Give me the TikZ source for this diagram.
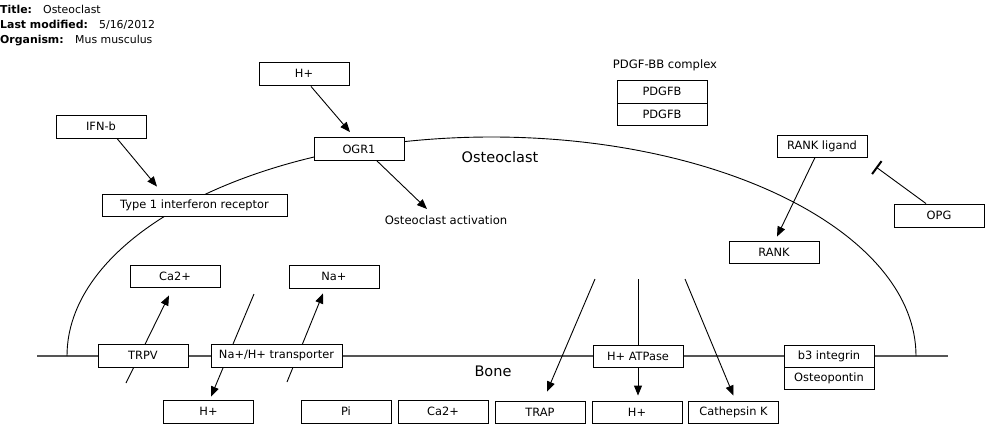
\documentclass[tikz,border=0pt]{standalone}
\usepackage{fontspec}
\setmainfont{DejaVu Sans}
\usetikzlibrary{arrows.meta,calc}
\pgfdeclarelayer{bg}
\pgfsetlayers{bg,main}
\definecolor{memgray}{RGB}{85,85,85}
\begin{document}
\begin{tikzpicture}[x=1pt,y=-1pt,
  gene/.style={draw=black,fill=white,line width=0.9pt,minimum width=90pt,minimum height=23pt,inner sep=0pt,font=\fontsize{11.4}{13}\selectfont},
  lbl/.style={inner sep=0pt,font=\fontsize{11.6}{13}\selectfont},
  big/.style={inner sep=0pt,font=\fontsize{14.5}{17}\selectfont},
  ttl/.style={inner sep=0pt,anchor=base west,font=\fontsize{10.9}{13}\selectfont},
  conn/.style={line width=0.9pt,-{Triangle[length=10pt,width=8pt]}},
  inh/.style={line width=0.9pt,-{Bar[width=16pt,line width=2pt]}},
  mem/.style={draw=memgray,line width=1.5pt},
  arcline/.style={draw=black,line width=0.9pt}]
\useasboundingbox (0,0) rectangle (1000,439);

% title block
\node[ttl] (t1) at (0,13) {\bfseries Title:};
\node[ttl] (t1v) at (43,13) {Osteoclast};
\node[ttl] (t2) at (0,28) {\bfseries Last modified:};
\node[ttl] (t2v) at (99,28) {5/16/2012};
\node[ttl] (t3) at (0,43) {\bfseries Organism:};
\node[ttl] (t3v) at (75,43) {Mus musculus};

% free ends
\coordinate (memL) at (37,356);
\coordinate (memR) at (948,356);
\coordinate (arcL) at (67,356);
\coordinate (opgT) at (876,167);
\coordinate (trpvS) at (126,383);
\coordinate (nhS) at (254,294);
\coordinate (naS) at (287,382);
\coordinate (trapS) at (595,279);
\coordinate (hS) at (638,279);
\coordinate (cathS) at (685,279);

% nodes
\node[gene] (hplus) at (304,73.5) {H+};
\node[gene] (ifnb) at (101,126.5) {IFN-b};
\node[gene] (ogr1) at (359,149) {OGR1};
\node[gene,minimum width=185pt,minimum height=22pt] (t1ir) at (194.5,205) {Type 1 interferon receptor};
\node[lbl] (act) at (446,220) {Osteoclast activation};
\node[big] (ocl) at (500,157) {Osteoclast};
\node[lbl] (pdgfc) at (665,65) {PDGF-BB complex};
\node[gene] (pdgfb1) at (662,91.5) {PDGFB};
\node[gene,minimum height=22pt] (pdgfb2) at (662,114) {PDGFB};
\node[gene,minimum height=22pt] (rankl) at (822,146) {RANK ligand};
\node[gene,minimum height=22pt] (rank) at (774,252) {RANK};
\node[gene] (opg) at (939,215.5) {OPG};

\node[gene,minimum height=22pt] (ca2top) at (175,276) {Ca2+};
\node[gene] (natop) at (334,276.5) {Na+};
\node[gene] (trpv) at (143,355.5) {TRPV};
\node[gene,minimum width=131pt] (nhx) at (276.5,356) {Na+/H+ transporter};
\node[gene,minimum height=22pt] (atpase) at (638,356) {H+ ATPase};
\node[gene,minimum height=22pt] (b3) at (829,356) {b3 integrin};
\node[gene,minimum height=22pt] (opn) at (829,378) {Osteopontin};
\node[big] (bone) at (493,371) {Bone};

\node[gene] (hb1) at (208.5,411.5) {H+};
\node[gene] (pi) at (346,411.5) {Pi};
\node[gene] (ca2b) at (443,411.5) {Ca2+};
\node[gene,minimum height=22pt] (trap) at (540,412) {TRAP};
\node[gene,minimum height=22pt] (hb3) at (637,412) {H+};
\node[gene,minimum height=22pt] (cath) at (733.5,412) {Cathepsin K};

\begin{pgfonlayer}{bg}
  \draw[mem] (memL) -- (memR);
  \draw[arcline] (arcL) arc[start angle=180,end angle=0,x radius=424.5pt,y radius=219pt];
  \draw[conn] (trpvS) -- ($(ca2top.south)+(-6,8)$);
  \draw[conn] (nhS) -- ($(hb1.north)+(2.5,-3)$);
  \draw[conn] (naS) -- ($(natop.south)+(-11,5)$);
  \draw[conn] (trapS) -- ($(trap.north)+(7,-9)$);
  \draw[conn] (hS) -- ($(hb3.north)+(1,-5)$);
  \draw[conn] (cathS) -- ($(cath.north)+(0,-5)$);
\end{pgfonlayer}

\draw[conn] ($(hplus.south)+(7,1)$) -- ($(ogr1.north)+(-9,-5)$);
\draw[conn] ($(ifnb.south)+(16,0)$) -- ($(t1ir.north)+(-37.5,-7)$);
\draw[conn] ($(ogr1.south)+(18,0)$) -- ($(act.center)+(-19,-11)$);
\draw[conn] ($(rankl.south)+(-7,0)$) -- ($(rank.north)+(3,-4)$);
\draw[inh] ($(opg.north)+(-13,0)$) -- (opgT);
\end{tikzpicture}
\end{document}
